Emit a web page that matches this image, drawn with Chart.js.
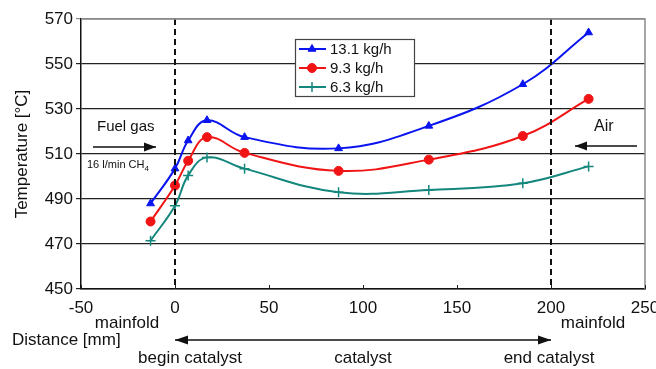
<!DOCTYPE html>
<html><head><meta charset="utf-8">
<script src="https://cdn.jsdelivr.net/npm/chart.js@4"></script>
<style>html,body{margin:0;padding:0;background:#fff}</style>
</head><body>
<canvas id="c" width="656" height="369" style="width:656px;height:369px;display:block"></canvas>
<script>
// ---- data ----
const distance = [-13, 0, 7, 17, 37, 87, 135, 185, 220];
const flow131 = [488, 503.5, 516, 525, 517.5, 512.5, 522.5, 541, 564];
const flow93  = [480, 496, 507, 517.5, 510.5, 502.5, 507.5, 518, 534.5];
const flow63  = [471.5, 487, 500.5, 508.5, 503.5, 493, 494, 497, 504.5];
const seriesLabels = ['13.1 kg/h', '9.3 kg/h', '6.3 kg/h'];
const xTicks = [-50, 0, 50, 100, 150, 200, 250];
const yTicks = [450, 470, 490, 510, 530, 550, 570];
const catalystStart = 0, catalystEnd = 200;

const FONT = '"Liberation Sans", Arial, Helvetica, sans-serif';
const colors = ['#0a14f0', '#f01414', '#14877d'];
const markers = ['triangle', 'circle', 'cross'];
const values = [flow131, flow93, flow63];

const datasets = values.map((arr, i) => ({
  label: seriesLabels[i],
  data: distance.map((d, k) => ({x: d, y: arr[k]})),
  borderColor: colors[i],
  backgroundColor: colors[i],
  borderWidth: 2,
  pointStyle: markers[i],
  pointRadius: i === 2 ? 5 : 4.5,
  pointBorderWidth: i === 2 ? 1.5 : 1,
  tension: 0.4,
  fill: false
}));

function arrow(ctx, x1, y, x2, head, both) {
  ctx.beginPath(); ctx.moveTo(x1, y); ctx.lineTo(x2, y); ctx.stroke();
  const tri = (xt, dir) => {
    ctx.beginPath();
    ctx.moveTo(xt, y);
    ctx.lineTo(xt - dir * head, y - 4.5);
    ctx.lineTo(xt - dir * head, y + 4.5);
    ctx.closePath(); ctx.fill();
  };
  tri(x2, Math.sign(x2 - x1));
  if (both) tri(x1, Math.sign(x1 - x2));
}

const deco = {
  id: 'deco',
  afterDatasetsDraw(chart) {
    const {ctx, chartArea: ca, scales: {x: xs}} = chart;
    ctx.save();
    ctx.strokeStyle = '#111'; ctx.lineWidth = 2; ctx.setLineDash([6, 4]);
    [catalystStart, catalystEnd].forEach(v => {
      const px = Math.round(xs.getPixelForValue(v));
      ctx.beginPath(); ctx.moveTo(px, ca.top); ctx.lineTo(px, ca.bottom); ctx.stroke();
    });
    ctx.restore();
  },
  afterDraw(chart) {
    const {ctx, chartArea: ca, scales: {x: xs}} = chart;
    ctx.save();
    ctx.strokeStyle = '#8a8a8a'; ctx.lineWidth = 1.5;
    ctx.beginPath(); ctx.moveTo(ca.left, ca.top); ctx.lineTo(ca.right, ca.top); ctx.lineTo(ca.right, ca.bottom); ctx.stroke();
    ctx.strokeStyle = '#222'; ctx.lineWidth = 1;
    xTicks.forEach(v => {
      const px = Math.round(xs.getPixelForValue(v)) + 0.5;
      ctx.beginPath(); ctx.moveTo(px, ca.bottom); ctx.lineTo(px, ca.bottom - 4); ctx.stroke();
    });

    // legend box
    const lx = 295, ly = 39, lw = 119, lh = 57;
    ctx.fillStyle = '#fff'; ctx.fillRect(lx, ly, lw, lh);
    ctx.strokeStyle = '#444'; ctx.lineWidth = 1.2; ctx.strokeRect(lx + 0.5, ly + 0.5, lw, lh);
    ctx.font = '15px ' + FONT; ctx.textBaseline = 'middle'; ctx.textAlign = 'left';
    chart.data.datasets.forEach((ds, i) => {
      const yy = ly + 10 + i * 19;
      ctx.strokeStyle = ds.borderColor; ctx.fillStyle = ds.backgroundColor; ctx.lineWidth = 2;
      ctx.beginPath(); ctx.moveTo(lx + 4, yy); ctx.lineTo(lx + 31, yy); ctx.stroke();
      ctx.lineWidth = ds.pointBorderWidth;
      Chart.helpers.drawPoint(ctx, {pointStyle: ds.pointStyle, radius: ds.pointRadius, borderWidth: ds.pointBorderWidth}, lx + 17, yy);
      ctx.fillStyle = '#111';
      ctx.fillText(ds.label, lx + 35, yy + 1);
    });
    ctx.restore();

    ctx.save();
    ctx.fillStyle = '#111'; ctx.strokeStyle = '#111'; ctx.lineWidth = 1.3;
    ctx.textBaseline = 'middle';
    ctx.font = '15px ' + FONT; ctx.textAlign = 'left';
    ctx.fillText('Fuel gas', 97, 127);
    arrow(ctx, 93, 147, 156, 12, false);
    ctx.font = '11px ' + FONT;
    ctx.fillText('16 l/min CH', 87, 165);
    const w = ctx.measureText('16 l/min CH').width;
    ctx.font = '8px ' + FONT;
    ctx.fillText('4', 87 + w, 169);
    ctx.font = '16px ' + FONT; ctx.textAlign = 'left';
    ctx.fillText('Air', 594, 127);
    arrow(ctx, 637, 146, 575, 12, false);

    const p0 = xs.getPixelForValue(catalystStart), p200 = xs.getPixelForValue(catalystEnd);
    const pMid = xs.getPixelForValue((catalystStart + catalystEnd) / 2);
    ctx.font = '17px ' + FONT; ctx.textAlign = 'center';
    ctx.fillText('mainfold', 127, 323);
    ctx.fillText('mainfold', 593, 323);
    ctx.textAlign = 'left';
    ctx.fillText('Distance [mm]', 12, 340);
    ctx.lineWidth = 1.3;
    arrow(ctx, p0, 340, p200, 13, true);
    ctx.textAlign = 'center';
    ctx.fillText('begin catalyst', 190, 358);
    ctx.fillText('catalyst', pMid, 358);
    ctx.fillText('end catalyst', 549, 358);
    ctx.restore();
  }
};

new Chart(document.getElementById('c'), {
  type: 'line',
  data: {datasets},
  options: {
    responsive: false,
    animation: false,
    devicePixelRatio: 1,
    layout: {padding: {left: 0, right: 11, top: 19, bottom: 0}},
    plugins: {legend: {display: false}, tooltip: {enabled: false}},
    scales: {
      x: {
        type: 'linear', min: -50, max: 250,
        afterFit: s => { s.height = 80; s.paddingLeft = 0; s.paddingRight = 0; },
        afterBuildTicks: s => { s.ticks = xTicks.map(v => ({value: v})); },
        ticks: {font: {family: FONT, size: 17}, color: '#111', padding: 9, maxRotation: 0},
        grid: {display: true, drawOnChartArea: false, drawTicks: false},
        border: {display: true, color: '#111', width: 1.5}
      },
      y: {
        min: 450, max: 570,
        afterFit: s => { s.width = 81; s.paddingTop = 0; s.paddingBottom = 0; },
        afterBuildTicks: s => { s.ticks = yTicks.map(v => ({value: v})); },
        ticks: {font: {family: FONT, size: 17}, color: '#111', padding: 3},
        grid: {color: c => c.tick && c.tick.value === 570 ? '#8a8a8a' : '#222', lineWidth: 1.2, tickLength: 5},
        border: {display: true, color: '#111', width: 1.5},
        title: {display: true, text: 'Temperature [°C]', font: {family: FONT, size: 17}, color: '#111', padding: {top: 12, bottom: 0}}
      }
    }
  },
  plugins: [deco]
});
</script>
</body></html>
